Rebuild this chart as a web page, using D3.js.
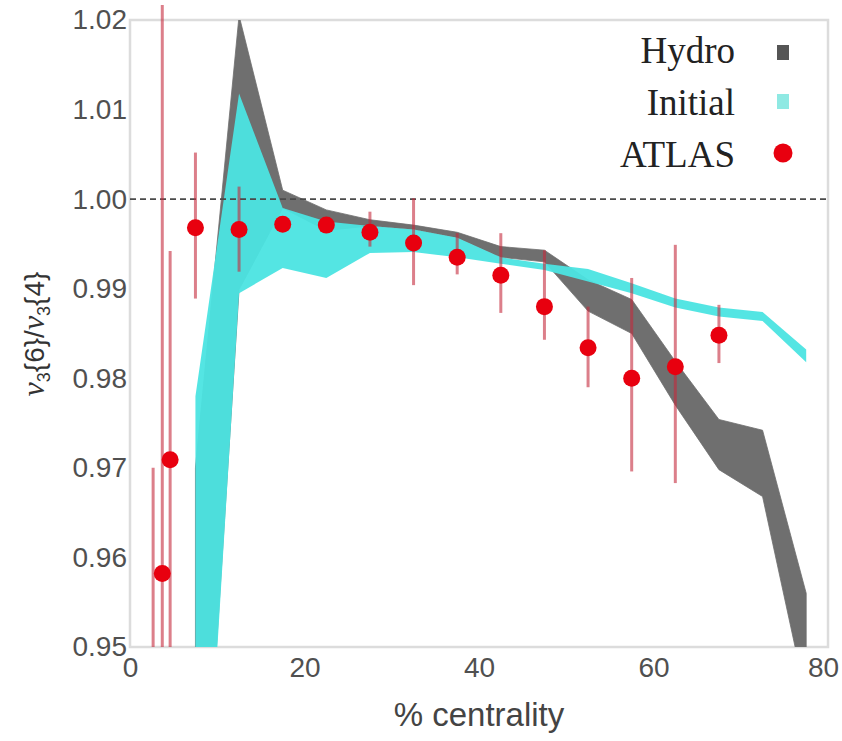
<!DOCTYPE html>
<html>
<head>
<meta charset="utf-8">
<script src="https://cdn.jsdelivr.net/npm/d3@7"></script>
<style>
  body { margin: 0; background: #fff; }
  svg { display: block; }
</style>
</head>
<body>
<div id="chart"></div>
<script>
// Bin centres of the model bands (% centrality)
const centrality = [7.5, 12.5, 17.5, 22.5, 27.5, 32.5, 37.5, 42.5, 47.5, 52.5, 57.5, 62.5, 67.5, 72.5, 77.5];

// Hydro band (upper / lower edge)
const hydroHi = [0.970, 1.0205, 1.001, 0.9988, 0.9977, 0.9971, 0.9963, 0.9947, 0.9943, 0.991, 0.9888, 0.9819, 0.9754, 0.9742, 0.956];
const hydroLo = [0.913, 0.9899, 0.999, 0.9965, 0.997, 0.9966, 0.9957, 0.9935, 0.993, 0.9875, 0.985, 0.977, 0.9698, 0.9668, 0.9443];

// Initial band (upper / lower edge)
const initialHi = [0.978, 1.0118, 0.999, 0.9975, 0.997, 0.9966, 0.9957, 0.9935, 0.9928, 0.9922, 0.9906, 0.9889, 0.9879, 0.9874, 0.9832];
const initialLo = [0.91, 0.9895, 0.9923, 0.9912, 0.994, 0.9941, 0.9935, 0.9928, 0.9921, 0.9908, 0.9895, 0.9879, 0.9869, 0.9864, 0.9818];

// ATLAS points
const atlasX = [3.7, 4.6, 7.5, 12.5, 17.5, 22.5, 27.5, 32.5, 37.5, 42.5, 47.5, 52.5, 57.5, 62.5, 67.5];
const atlasY = [0.9582, 0.9709, 0.9968, 0.9966, 0.9972, 0.9971, 0.9963, 0.9951, 0.9935, 0.9915, 0.988, 0.9834, 0.980, 0.9813, 0.9848];

// ATLAS error bars
const errX  = [2.65, 3.7, 4.6, 7.5, 12.5, 17.5, 22.5, 27.5, 32.5, 37.5, 42.5, 47.5, 52.5, 57.5, 62.5, 67.5];
const errLo = [0.94, 0.94, 0.94, 0.9889, 0.9919, 0.9965, 0.9964, 0.9947, 0.9904, 0.9916, 0.9873, 0.9843, 0.979, 0.9696, 0.9683, 0.9817];
const errHi = [0.970, 1.0217, 0.9942, 1.0052, 1.0014, 0.998, 0.9978, 0.9986, 1.0001, 0.9962, 0.9962, 0.9943, 0.988, 0.9912, 0.9949, 0.9882];

const xTicks = [0, 20, 40, 60, 80];
const yTicks = [0.95, 0.96, 0.97, 0.98, 0.99, 1.00, 1.01, 1.02];
const legendLabels = ["Hydro", "Initial", "ATLAS"];

const W = 842, H = 741;
const plot = { left: 130, right: 828, top: 20, bottom: 647 };

const svg = d3.select("#chart").append("svg")
    .attr("width", W)
    .attr("height", H);

const x = d3.scaleLinear().domain([0, 80]).range([plot.left, plot.right]);
const y = d3.scaleLinear().domain([0.95, 1.02]).range([plot.bottom, plot.top]);

const defs = svg.append("defs");
defs.append("clipPath").attr("id", "clip-band")
  .append("rect")
    .attr("x", plot.left).attr("y", plot.top)
    .attr("width", plot.right - plot.left).attr("height", plot.bottom - plot.top);
defs.append("clipPath").attr("id", "clip-err")
  .append("rect")
    .attr("x", plot.left).attr("y", 5)
    .attr("width", plot.right - plot.left).attr("height", plot.bottom - 5);

// frame
svg.append("rect")
    .attr("x", plot.left).attr("y", plot.top)
    .attr("width", plot.right - plot.left).attr("height", plot.bottom - plot.top)
    .attr("fill", "none")
    .attr("stroke", "#dcdcdc")
    .attr("stroke-width", 2.5);

// bands
const hydro = centrality.map((c, i) => ({ c, lo: hydroLo[i], hi: hydroHi[i] }));
const initial = centrality.map((c, i) => ({ c, lo: initialLo[i], hi: initialHi[i] }));

const area = d3.area()
    .x(d => x(d.c))
    .y0(d => y(d.lo))
    .y1(d => y(d.hi));

const bands = svg.append("g").attr("clip-path", "url(#clip-band)");
bands.append("path")
    .datum(hydro)
    .attr("d", area)
    .attr("fill", "#6f6f6f")
    .attr("stroke", "#6f6f6f")
    .attr("stroke-width", 0.8);
bands.append("path")
    .datum(initial)
    .attr("d", area)
    .attr("fill", "#4be4e2")
    .attr("fill-opacity", 0.95);

// reference line at 1
svg.append("line")
    .attr("x1", plot.left).attr("x2", plot.right)
    .attr("y1", y(1)).attr("y2", y(1))
    .attr("stroke", "#4a4a4a")
    .attr("stroke-width", 1.6)
    .attr("stroke-dasharray", "6,4");

// error bars
const errs = errX.map((c, i) => ({ c, lo: errLo[i], hi: errHi[i] }));
svg.append("g").attr("clip-path", "url(#clip-err)")
  .selectAll("line")
  .data(errs)
  .enter().append("line")
    .attr("x1", d => x(d.c)).attr("x2", d => x(d.c))
    .attr("y1", d => y(d.lo)).attr("y2", d => y(d.hi))
    .attr("stroke", "#c42a3c")
    .attr("stroke-opacity", 0.6)
    .attr("stroke-width", 3);

// ATLAS points
svg.append("g")
  .selectAll("circle")
  .data(atlasX.map((c, i) => ({ c, v: atlasY[i] })))
  .enter().append("circle")
    .attr("cx", d => x(d.c))
    .attr("cy", d => y(d.v))
    .attr("r", 8.5)
    .attr("fill", "#e8000f");

// axes
const yAxis = svg.append("g")
    .attr("transform", `translate(${plot.left},0)`)
    .call(d3.axisLeft(y).tickValues(yTicks).tickSize(0).tickPadding(3).tickFormat(d3.format(".2f")));
const xAxis = svg.append("g")
    .attr("transform", `translate(0,${plot.bottom})`)
    .call(d3.axisBottom(x).tickValues(xTicks).tickSize(0).tickPadding(10).tickFormat(d3.format("d")));
[yAxis, xAxis].forEach(a => {
  a.select(".domain").remove();
  a.selectAll("text")
    .attr("font-family", "'Liberation Sans', Arial, sans-serif")
    .attr("font-size", 28)
    .attr("fill", "#505050");
});
// keep the last x label inside the picture
xAxis.selectAll("text").filter(d => d === 80).attr("dx", -5);

// axis titles
svg.append("text")
    .attr("x", (plot.left + plot.right) / 2)
    .attr("y", 726)
    .attr("text-anchor", "middle")
    .attr("font-family", "'Liberation Sans', Arial, sans-serif")
    .attr("font-size", 33)
    .attr("fill", "#444")
    .text("% centrality");

const yTitle = svg.append("text")
    .attr("transform", "translate(44,334) rotate(-90)")
    .attr("text-anchor", "middle")
    .attr("font-family", "'Liberation Sans', Arial, sans-serif")
    .attr("font-size", 28)
    .attr("fill", "#333");
[["v", true], ["3", "sub"], ["{6}/", false], ["v", true], ["3", "sub"], ["{4}", false]].forEach(([t, s]) => {
  const ts = yTitle.append("tspan").text(t);
  if (s === true) ts.attr("font-style", "italic").attr("font-family", "'Liberation Serif', serif").attr("font-size", 32);
  if (s === "sub") ts.attr("font-size", 18).attr("dy", 6);
});
// reset baseline after subscripts
yTitle.selectAll("tspan").filter((d, i) => i === 2 || i === 5).attr("dy", -6);

// legend
const legend = svg.append("g");
legendLabels.forEach((label, i) => {
  const ly = 63 + i * 52;
  legend.append("text")
      .attr("x", 735).attr("y", ly)
      .attr("text-anchor", "end")
      .attr("font-family", "'Liberation Serif', 'Times New Roman', serif")
      .attr("font-size", 37)
      .attr("fill", "#222")
      .text(label);
});
legend.append("rect")
    .attr("x", 777).attr("y", 45).attr("width", 12).attr("height", 15)
    .attr("fill", "#555");
legend.append("rect")
    .attr("x", 777).attr("y", 94).attr("width", 12).attr("height", 15)
    .attr("fill", "#8fe9e3");
legend.append("circle")
    .attr("cx", 783).attr("cy", 153).attr("r", 9.5)
    .attr("fill", "#e8000f");
</script>
</body>
</html>
